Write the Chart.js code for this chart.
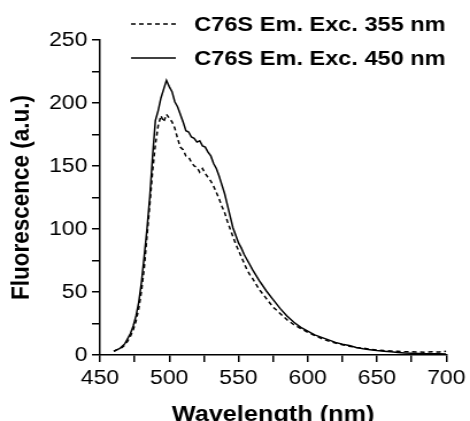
<!DOCTYPE html>
<html>
<head>
<meta charset="utf-8">
<script src="https://cdn.jsdelivr.net/npm/chart.js@4.4.1/dist/chart.umd.min.js"></script>
<style>
  html, body { margin: 0; padding: 0; background: #fff; }
  #chart { display: block; }
</style>
</head>
<body>
<!-- the source figure is horizontally stretched, so draw narrow and show it wide -->
<canvas id="chart" width="409" height="421" style="width: 470px; height: 421px;"></canvas>
<script>
const wavelengths = [
  460, 462, 464, 466, 468, 470, 472, 474, 476, 478, 480, 482, 484, 486, 488, 490, 492,
  494, 496, 498, 500, 502, 504, 506, 508, 510, 512, 514, 516, 518, 520, 522, 524, 526,
  528, 530, 532, 534, 536, 538, 540, 542, 544, 546, 548, 550, 552, 554, 556, 558, 560,
  565, 570, 575, 580, 585, 590, 595, 600, 605, 610, 615, 620, 625, 630, 635, 640, 645,
  650, 655, 660, 665, 670, 675, 680, 685, 690, 695, 700
];
const exc355 = [
  3, 4, 5, 6, 8, 11, 15, 20, 27, 37, 51, 70, 95, 120, 146, 167, 182,
  190, 185, 191, 188, 185, 180, 172, 165, 163, 158, 157, 153, 150, 149, 145, 148, 144,
  141, 138, 134, 129, 124, 118, 113, 106, 100, 94, 88, 83, 78, 73, 68, 64, 61,
  52, 45, 38, 33, 28, 24, 21, 18, 15.5, 13, 11, 9.5, 8.2, 7, 6, 5.5, 4.6,
  4, 3.5, 3.2, 3, 2.6, 2.5, 2.4, 2.2, 2.5, 2.4, 3
];
const exc450 = [
  3, 4, 5, 7, 9, 13, 17, 23, 31, 42, 58, 79, 101, 126, 158, 186, 194,
  204, 211, 218, 213, 209, 201, 197, 191, 185, 178, 177, 173, 172, 169, 170, 166, 165,
  161, 158, 152, 148, 142, 135, 128, 119, 110, 101, 95, 89, 85, 80, 76, 72, 68,
  59, 51, 44, 37, 31, 26, 22, 19, 16, 14, 12, 10, 8.5, 7.5, 6, 5, 4.2,
  3.5, 3, 2.5, 2, 1.6, 1.4, 1.2, 1, 1, 0.9, 0.8
];
const seriesLabels = ['C76S Em. Exc. 355 nm', 'C76S Em. Exc. 450 nm'];

const FONT = '"Liberation Sans", Arial, Helvetica, sans-serif';

// legend drawn by hand in the top-right corner, overlapping the plot area like the original
const legendLines = {
  id: 'legendLines',
  afterDraw(chart) {
    const ctx = chart.ctx;
    ctx.save();
    chart.data.datasets.forEach((ds, i) => {
      const y = 24 + i * 34;
      ctx.strokeStyle = ds.borderColor;
      ctx.lineWidth = ds.borderWidth;
      ctx.setLineDash(ds.borderDash || []);
      ctx.beginPath();
      ctx.moveTo(114, y);
      ctx.lineTo(153, y);
      ctx.stroke();
      ctx.setLineDash([]);
      ctx.fillStyle = '#000';
      ctx.font = 'bold 20.5px ' + FONT;
      ctx.textBaseline = 'middle';
      ctx.fillText(ds.label, 169, y + 1);
    });
    ctx.restore();
  }
};

const toPoints = (ys) => wavelengths.map((w, i) => ({ x: w, y: ys[i] }));

const ctx = document.getElementById('chart').getContext('2d');
new Chart(ctx, {
  type: 'line',
  data: {
    datasets: [
      {
        label: seriesLabels[0],
        data: toPoints(exc355),
        borderColor: '#000',
        borderWidth: 1.5,
        borderDash: [4, 3],
        pointRadius: 0,
        fill: false,
      },
      {
        label: seriesLabels[1],
        data: toPoints(exc450),
        borderColor: '#000',
        borderWidth: 1.5,
        pointRadius: 0,
        fill: false,
      },
    ],
  },
  options: {
    responsive: false,
    animation: false,
    devicePixelRatio: 1,
    layout: { padding: { top: 40, right: 20, left: 0, bottom: 0 } },
    plugins: {
      legend: { display: false },
      tooltip: { enabled: false },
    },
    scales: {
      x: {
        type: 'linear',
        min: 450,
        max: 700,
        border: { color: '#000', width: 1.5 },
        grid: { drawOnChartArea: false, color: '#000', lineWidth: 1.5, tickLength: 7 },
        ticks: {
          stepSize: 25,
          autoSkip: false,
          maxRotation: 0,
          padding: 4,
          color: '#000',
          font: { family: FONT, size: 20 },
          callback: (v) => (v % 50 === 0 ? v : ''),
        },
        title: {
          display: true,
          text: 'Wavelength (nm)',
          color: '#000',
          font: { family: FONT, size: 22, weight: 'bold', lineHeight: 1 },
          padding: { top: 0, bottom: -5 },
        },
        afterFit: (s) => { s.height = 66; },
      },
      y: {
        min: 0,
        max: 250,
        border: { color: '#000', width: 1.5 },
        grid: { drawOnChartArea: false, color: '#000', lineWidth: 1.5, tickLength: 7 },
        ticks: {
          stepSize: 25,
          autoSkip: false,
          padding: 4,
          color: '#000',
          font: { family: FONT, size: 20 },
          callback: (v) => (v % 50 === 0 ? v : ''),
        },
        title: {
          display: true,
          text: 'Fluorescence (a.u.)',
          color: '#000',
          font: { family: FONT, size: 22.5, weight: 'bold', lineHeight: 1 },
          padding: { top: 8, bottom: 0 },
        },
        afterFit: (s) => { s.width = 87; },
      },
    },
  },
  plugins: [legendLines],
});
</script>
</body>
</html>
